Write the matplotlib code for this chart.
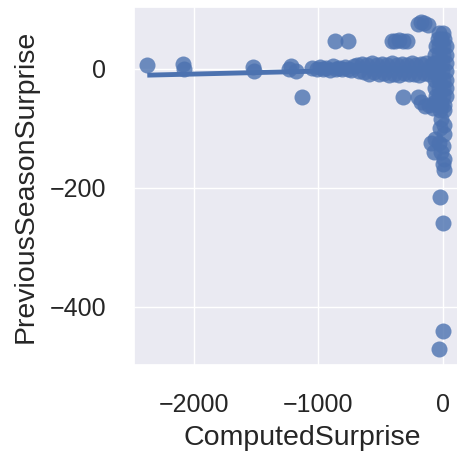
import matplotlib
matplotlib.use("Agg")
import matplotlib.pyplot as plt
import pandas as pd
import seaborn as sns

# values (the dense blob near zero is
# approximated by the points that make up its visible outline)
computed_surprise = [
    # far left outliers
    -2378, -2090, -2085, -1530, -1520, -1237, -1220, -1180, -1134, -1054,
    # upper groups
    -866, -759, -410, -380, -350, -320, -290, -200, -175, -150, -120,
    # lone point below the band
    -316,
    # band, single row
    -1010, -985, -960, -935, -910, -885, -860, -835, -810, -785, -760, -735, -710,
    # band, upper row
    -690, -650, -610, -570, -530, -490, -450, -410, -370, -330, -290, -250,
    -210, -170, -130, -95,
    # band, lower row
    -670, -630, -590, -550, -510, -470, -430, -390, -350, -310, -270, -230,
    -190, -150, -110, -75,
    # column at zero
    -25, 0,
    -40, -10, 15,
    -55, -25, 5, 30,
    -60, -30, 0, 30,
    -65, -35, -5, 30,
    -65, -35, -5, 30,
    -60, -30, 0, 30,
    -60, -30, 0, 30,
    -55, -25, 5, 30,
    -45, -15, 15,
    -20, 10,
    # bump left of the column
    -200, -170, -140, -110, -80, -60,
    # lower cluster
    -10, 10, -20, 15, -60, -90, -30, 5, -70, -10, 10, 0, 15,
    # isolated low points
    -21, 0, 5, -29,
]
previous_season_surprise = [
    7, 8, 0, 3, -4, -1, 5, -3, -48, 1,
    46, 46, 47, 47, 48, 47, 46, 76, 78, 77, 74,
    -48,
    0, 3, -1, 2, -2, 4, 0, 2, -1, 3, 0, -2, 4,
    6, 8, 7, 9, 6, 8, 7, 9, 6, 8, 7, 9,
    6, 8, 10, 7,
    -4, -6, -8, -6, -9, -7, -10, -8, -10, -7, -9, -8,
    -10, -7, -9, -6,
    60, 60,
    50, 50, 50,
    38, 38, 38, 38,
    24, 24, 24, 24,
    10, 10, 10, 10,
    -4, -4, -4, -4,
    -18, -18, -18, -18,
    -32, -32, -32, -32,
    -46, -46, -46, -46,
    -60, -60, -60,
    -70, -70,
    -48, -55, -62, -60, -65, -55,
    -85, -95, -100, -110, -118, -125, -125, -130, -140, -140, -152, -160, -170,
    -216, -260, -440, -471,
]

# regression line (ends of the fitted line)
trend_x = [-2378, 30]
trend_y = [-10.6, 1.3]

df = pd.DataFrame({
    "ComputedSurprise": computed_surprise,
    "PreviousSeasonSurprise": previous_season_surprise,
})

sns.set_theme(style="darkgrid")
plt.rcParams["font.family"] = ["Liberation Sans", "DejaVu Sans"]

fig = plt.figure(figsize=(4.57, 4.54), dpi=100)
ax = fig.add_axes([134 / 457, 89 / 454, 337 / 457, 358 / 454])

sns.regplot(
    data=df, x="ComputedSurprise", y="PreviousSeasonSurprise", ax=ax,
    fit_reg=False, color="C0",
    scatter_kws={"s": 133, "alpha": 0.8, "linewidths": 0},
)
ax.plot(trend_x, trend_y, color="C0", linewidth=3.5, solid_capstyle="butt")

ax.set_xlim(-2485, 229)
ax.set_ylim(-498, 104)
ax.set_xticks([-2000, -1000, 0])
ax.set_yticks([-400, -200, 0])
ax.tick_params(labelsize=18, pad=14, colors="#262626")
ax.set_xlabel("ComputedSurprise", fontsize=20.5, labelpad=6, color="#262626")
ax.set_ylabel("PreviousSeasonSurprise", fontsize=20.5, labelpad=8, color="#262626")

fig.savefig("out.png", dpi=100)
